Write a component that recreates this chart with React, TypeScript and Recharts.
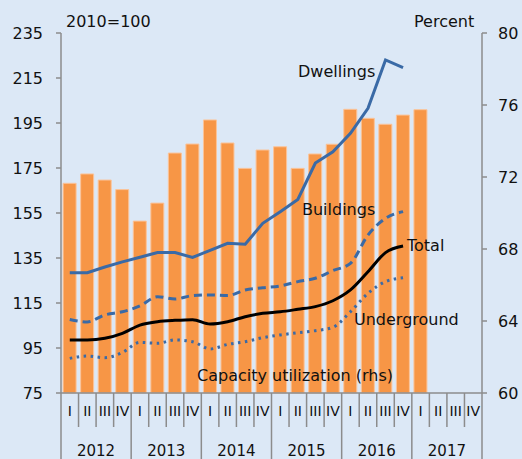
import { Bar, ComposedChart, Line, XAxis, YAxis } from "recharts";

const YEARS = ["2012", "2013", "2014", "2015", "2016", "2017"];
const QUARTERS = ["I", "II", "III", "IV"];

// index 2010=100, 2012 Q1 .. 2016 Q4
const dwellings = [128.5, 128.5, 131, 133.3, 135.3, 137.4, 137.4, 135.3, 138.4, 141.5, 141.1, 150.4, 155.6, 161, 177.2, 182.2, 190.4, 201.5, 223, 219.6];
const buildings = [107.7, 106.6, 109.7, 111.1, 113.7, 117.8, 116.8, 118.3, 118.6, 118.3, 120.8, 121.8, 122.6, 124.5, 126, 129.4, 132.6, 145.2, 152.6, 155.6];
const total = [98.6, 98.6, 99.3, 101.5, 105.2, 106.7, 107.3, 107.6, 105.7, 106.7, 108.9, 110.4, 111.1, 112.2, 113.4, 116, 120.8, 128.9, 137.4, 140.3];
const underground = [90.4, 91.4, 90.7, 93, 97.5, 97.1, 98.6, 97.8, 94.6, 96.6, 97.8, 99.6, 100.8, 101.8, 102.7, 104.2, 111.1, 119.3, 124.5, 126.2];
// capacity utilization, percent (rhs), 2012 Q1 .. 2017 Q1
const capacity = [71.65, 72.17, 71.83, 71.3, 69.55, 70.55, 73.33, 73.83, 75.17, 73.89, 72.48, 73.5, 73.68, 72.48, 73.28, 73.82, 75.76, 75.26, 74.93, 75.44, 75.74];

const leftTicks = [75, 95, 115, 135, 155, 175, 195, 215, 235];
const rightTicks = [60, 64, 68, 72, 76, 80];

const data = YEARS.flatMap((y, yi) =>
  QUARTERS.map((q, qi) => {
    const i = yi * 4 + qi;
    return {
      key: `${y}-${q}`,
      year: y,
      q,
      dwellings: dwellings[i] ?? null,
      buildings: buildings[i] ?? null,
      total: total[i] ?? null,
      underground: underground[i] ?? null,
      capacity: capacity[i] ?? null,
    };
  })
);

const W = 522;
const H = 459;
const LEFT = 61;
const RIGHT = 40;
const TOP = 33;
const XH = 66;
const AXIS_Y = H - XH;
const HALF = (W - LEFT - RIGHT) / data.length / 2;
const BG = "#dce8f6";
const GRAY = "#8c8c8c";
const BLUE = "#3a6aa6";
const FONT = "DejaVu Sans";

function QuarterTick(props: any) {
  const { x, payload } = props;
  const idx = data.findIndex((d) => d.key === payload.value);
  const d = data[idx];
  const qi = idx % 4;
  return (
    <g>
      <line
        x1={x - HALF}
        x2={x - HALF}
        y1={AXIS_Y}
        y2={qi === 0 ? H : AXIS_Y + 34}
        stroke={GRAY}
        strokeWidth={1.5}
      />
      {idx === data.length - 1 && (
        <line x1={x + HALF} x2={x + HALF} y1={AXIS_Y} y2={H} stroke={GRAY} strokeWidth={1.5} />
      )}
      <text x={x} y={AXIS_Y + 23} textAnchor="middle" fontSize={14} fontFamily={FONT} fill="#111">
        {d.q}
      </text>
      {qi === 1 && (
        <text x={x + HALF} y={AXIS_Y + 63} textAnchor="middle" fontSize={15} fontFamily={FONT} fill="#111">
          {d.year}
        </text>
      )}
    </g>
  );
}

const label = (text: string, left: number, top: number) => (
  <div
    style={{
      position: "absolute",
      left,
      top,
      fontFamily: FONT,
      fontSize: 16,
      lineHeight: "16px",
      color: "#111",
      whiteSpace: "nowrap",
    }}
  >
    {text}
  </div>
);

export default function App() {
  return (
    <div style={{ position: "absolute", left: 0, top: 0, width: W, height: H, background: BG, overflow: "hidden" }}>
      <ComposedChart
        width={W}
        height={H}
        data={data}
        margin={{ top: TOP, right: 0, left: 0, bottom: 0 }}
        barCategoryGap="12%"
      >
        <XAxis
          dataKey="key"
          interval={0}
          height={XH}
          tickLine={false}
          axisLine={{ stroke: GRAY, strokeWidth: 1.5 }}
          tick={<QuarterTick />}
        />
        <YAxis
          yAxisId="left"
          orientation="left"
          width={LEFT}
          domain={[75, 235]}
          ticks={leftTicks}
          interval={0}
          tickSize={5}
          tickMargin={13}
          axisLine={{ stroke: GRAY, strokeWidth: 1.5 }}
          tickLine={{ stroke: GRAY, strokeWidth: 1.5 }}
          tick={{ fill: "#111", fontSize: 16, fontFamily: FONT }}
        />
        <YAxis
          yAxisId="right"
          orientation="right"
          width={RIGHT}
          domain={[60, 80]}
          ticks={rightTicks}
          interval={0}
          tickSize={5}
          tickMargin={11}
          axisLine={{ stroke: GRAY, strokeWidth: 1.5 }}
          tickLine={{ stroke: GRAY, strokeWidth: 1.5 }}
          tick={{ fill: "#111", fontSize: 16, fontFamily: FONT }}
        />
        <Bar
          yAxisId="right"
          dataKey="capacity"
          fill="#f79646"
          stroke="#fbc49a"
          strokeWidth={1}
          isAnimationActive={false}
        />
        <Line
          yAxisId="left"
          dataKey="dwellings"
          type="linear"
          stroke={BLUE}
          strokeWidth={3}
          dot={false}
          isAnimationActive={false}
        />
        <Line
          yAxisId="left"
          dataKey="buildings"
          type="monotone"
          stroke={BLUE}
          strokeWidth={3}
          strokeDasharray="8 5"
          dot={false}
          isAnimationActive={false}
        />
        <Line
          yAxisId="left"
          dataKey="total"
          type="monotone"
          stroke="#000"
          strokeWidth={3}
          dot={false}
          isAnimationActive={false}
        />
        <Line
          yAxisId="left"
          dataKey="underground"
          type="monotone"
          stroke={BLUE}
          strokeWidth={3}
          strokeDasharray="2.5 4.5"
          dot={false}
          isAnimationActive={false}
        />
      </ComposedChart>
      {label("2010=100", 66, 14)}
      {label("Percent", 414, 14)}
      {label("Dwellings", 298, 64)}
      {label("Buildings", 302, 202)}
      {label("Total", 407, 238)}
      {label("Underground", 354, 312)}
      {label("Capacity utilization (rhs)", 197, 368)}
    </div>
  );
}
